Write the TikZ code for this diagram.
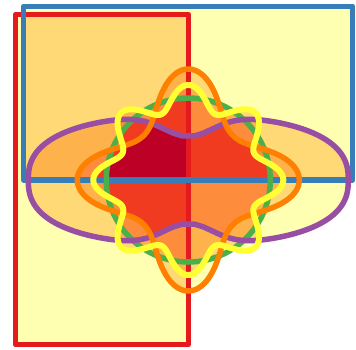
\documentclass[tikz,border=0pt]{standalone}
\definecolor{col1}{HTML}{FFFFB2}
\definecolor{col2}{HTML}{FED976}
\definecolor{col3}{HTML}{FEB24C}
\definecolor{col4}{HTML}{FD8D3C}
\definecolor{col5}{HTML}{F03B20}
\definecolor{col6}{HTML}{BD0026}
\definecolor{sRed}{HTML}{E41A1C}
\definecolor{sBlue}{HTML}{377EB8}
\definecolor{sGreen}{HTML}{4DAF4A}
\definecolor{sPurple}{HTML}{984EA3}
\definecolor{sOrange}{HTML}{FF7F00}
\definecolor{sYellow}{HTML}{FFFF33}
\begin{document}
\begin{tikzpicture}[x=1pt,y=-1pt,line join=round,
  outline/.style={line width=5.5pt}]
\useasboundingbox (0,0) rectangle (356,349);
\def\shA{(15.5,14.5) rectangle (188.3,344.7)}
\def\shB{(23.7,6.3) rectangle (352.7,180)}
\def\shC{(188.3,180) circle (82)}
\def\shD{plot[domain=1:359,samples=180,variable=\t]
  ({188.3+160*cos(\t)*pow(abs(cos(\t)),-0.2)},
   {180-sin(\t)/abs(sin(\t))*(64*pow(abs(sin(\t)),0.8)-20.5*exp(-pow(160*cos(\t)*pow(abs(cos(\t)),-0.2)/35,2)))}) -- cycle}
\def\shE{plot[domain=0:359,samples=360,variable=\t]
  ({188.3+(84+24*cos(4*\t)+3*cos(8*\t))*cos(\t)},
   {180+(84+24*cos(4*\t)+3*cos(8*\t))*sin(\t)}) -- cycle}
\def\shF{plot[domain=0:359,samples=360,variable=\t]
  ({188.3+(83+12*cos(8*\t))*cos(\t)},
   {180+(83+12*cos(8*\t))*sin(\t)}) -- cycle}
\foreach \k in {1,...,6}{
  \foreach \m in {1,...,63}{
    \pgfmathtruncatemacro\bA{mod(\m,2)}
    \pgfmathtruncatemacro\bB{mod(floor(\m/2),2)}
    \pgfmathtruncatemacro\bC{mod(floor(\m/4),2)}
    \pgfmathtruncatemacro\bD{mod(floor(\m/8),2)}
    \pgfmathtruncatemacro\bE{mod(floor(\m/16),2)}
    \pgfmathtruncatemacro\bF{mod(floor(\m/32),2)}
    \pgfmathtruncatemacro\nn{\bA+\bB+\bC+\bD+\bE+\bF}
    \ifnum\nn=\k\relax
      \begin{scope}
        \ifnum\bA=1 \clip \shA;\fi
        \ifnum\bB=1 \clip \shB;\fi
        \ifnum\bC=1 \clip \shC;\fi
        \ifnum\bD=1 \clip \shD;\fi
        \ifnum\bE=1 \clip \shE;\fi
        \ifnum\bF=1 \clip \shF;\fi
        \fill[col\k] (0,0) rectangle (356,349);
      \end{scope}
    \fi
  }
}
\draw[outline,sRed] \shA;
\draw[outline,sBlue] \shB;
\draw[outline,sGreen] \shC;
\draw[outline,sPurple] \shD;
\draw[outline,sOrange] \shE;
\draw[outline,sYellow,line width=6pt] \shF;
\end{tikzpicture}
\end{document}
